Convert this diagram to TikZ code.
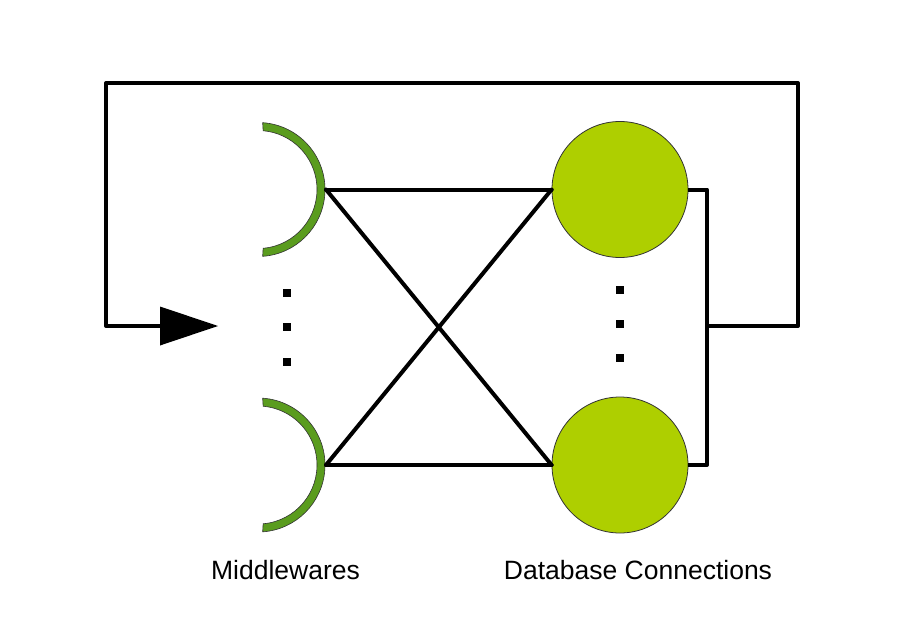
\documentclass[tikz,border=0pt]{standalone}
\usepackage{fontspec}
\setmainfont{Liberation Sans}
\usetikzlibrary{calc,arrows.meta}
\definecolor{ringgreen}{HTML}{5A9C1E}
\definecolor{dbgreen}{HTML}{AECF00}
\tikzset{
  conn/.style={line width=4pt, line cap=round, line join=round},
  dbnode/.style={circle, draw=black!80, line width=0.8pt, fill=dbgreen, minimum size=136pt, inner sep=0pt},
  ring/.style={fill=ringgreen, draw=black!80, line width=0.6pt},
  dot/.style={fill=black, minimum size=8pt, inner sep=0pt},
  label/.style={font=\fontsize{26.5pt}{30pt}\selectfont, anchor=base}
}
\begin{document}
\begin{tikzpicture}[x=1pt,y=-1pt]
\useasboundingbox (0,0) rectangle (907,643);
% rings
\foreach \cy/\nm in {189.5/m1, 465/m2}{
  \coordinate (\nm c) at (258,\cy);
  \draw[ring] ($(\nm c)+(-86:67)$) arc[start angle=-86, end angle=86, radius=67]
     -- ($(\nm c)+(85:59)$) arc[start angle=85, end angle=-85, radius=59] -- cycle;
  \coordinate (\nm) at (326,\cy);
}
% db circles
\node[dbnode] (d1) at (620,189.5) {};
\node[dbnode] (d2) at (620,465) {};
% connectors
\draw[conn] (m1) -- (d1.west);
\draw[conn] (m2) -- (d2.west);
\draw[conn] (m1) -- (d2.west);
\draw[conn] (m2) -- (d1.west);
% feedback
\coordinate (j) at (707,326);
\coordinate (tip) at (218,326);
\draw[conn, line cap=butt] (d1.east) -- (707,189.5) -- (707,465) -- (d2.east);
\draw[conn] (j) -- (798,326) -- (798,83) -- (106,83) -- (106,326) -- (165,326);
\fill (160,306.5) -- (tip) -- (160,345.5) -- cycle;
% dots
\foreach \y [count=\i] in {293,327,362}{ \node[dot] (ld\i) at (287,\y) {}; }
\foreach \y [count=\i] in {290,324,358}{ \node[dot] (rd\i) at (620,\y) {}; }
% labels
\node[label] (lm) at (285.5,579) {Middlewares};
\node[label] (ldb) at (638,579) {Database Connections};
\end{tikzpicture}
\end{document}
